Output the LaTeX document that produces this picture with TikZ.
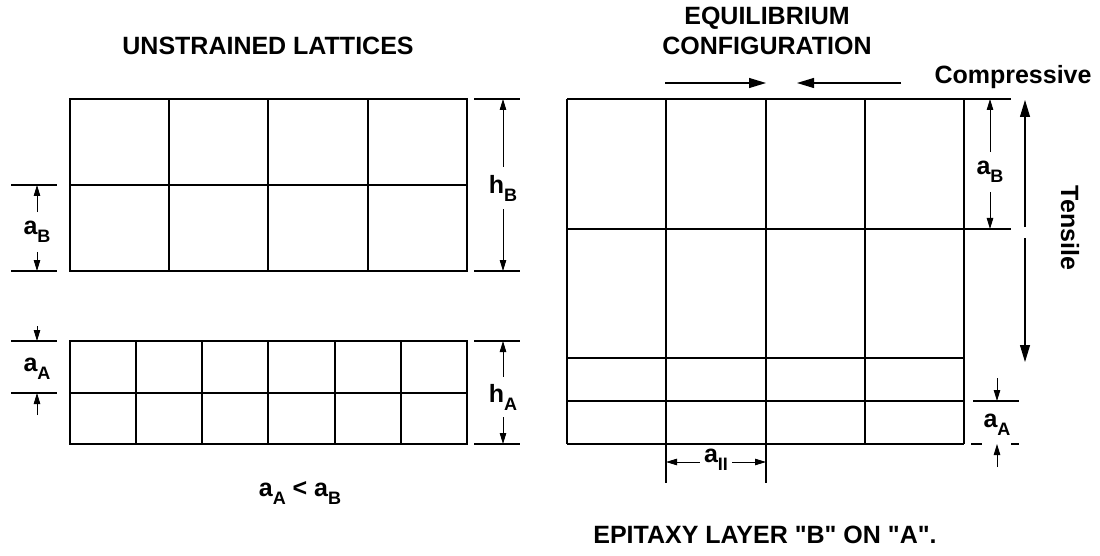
\documentclass[tikz,border=0pt]{standalone}
\usepackage{fontspec}
\setmainfont{Liberation Sans}[Ligatures=TeXOff]
\usetikzlibrary{arrows.meta}
\usetikzlibrary{positioning}

\newcommand{\lsub}[1]{\raisebox{-8pt}{\fontsize{18}{18}\selectfont #1}}

\begin{document}
\begin{tikzpicture}[x=1pt,y=-1pt,
  every node/.style={font=\fontsize{25}{30}\selectfont\bfseries,inner sep=0pt},
  grid/.style={line width=1.2pt},
  ext/.style={line width=1.2pt},
  dim/.style={line width=0.9pt,-{Triangle[length=11pt,width=6.5pt]}},
  force/.style={line width=1.1pt,-{Triangle[length=17pt,width=10pt]}},
  lbl/.style={inner xsep=0pt,inner ysep=9pt}]
\useasboundingbox (0,0) rectangle (1100,556);

% unstrained lattices
\node (title) at (268,46) {UNSTRAINED LATTICES};
\draw[grid] (70,99) rectangle (467,271);
\draw[grid] (70,185) -- (467,185);
\foreach \x in {169,268,368} \draw[grid] (\x,99) -- (\x,271);
\draw[grid] (70,341) rectangle (467,444);
\draw[grid] (70,393) -- (467,393);
\foreach \x in {136,202,268,335,401} \draw[grid] (\x,341) -- (\x,444);

\draw[ext] (11,185) -- (57,185);
\draw[ext] (11,271) -- (57,271);
\draw[ext] (474,99) -- (520,99);
\draw[ext] (474,271) -- (520,271);
\draw[ext] (11,341) -- (57,341);
\draw[ext] (11,393) -- (57,393);
\draw[ext] (474,341) -- (520,341);
\draw[ext] (474,444) -- (520,444);

\node[lbl] (aBl) at (37,232) {a\lsub{B}};
\coordinate (aBl1) at (37,185);
\coordinate (aBl2) at (37,271);
\draw[dim] (aBl) -- (aBl1);
\draw[dim] (aBl) -- (aBl2);

\node[lbl,inner ysep=8pt] (hB) at (503,188) {h\lsub{B}};
\coordinate (hB1) at (503,99);
\coordinate (hB2) at (503,271);
\draw[dim] (hB) -- (hB1);
\draw[dim] (hB) -- (hB2);

\node (aAl) at (37,369) {a\lsub{A}};
\coordinate (aAl1) at (37,341);
\coordinate (aAl2) at (37,393);
\coordinate (aAl0) at (37,326);
\coordinate (aAl3) at (37,415);
\draw[dim] (aAl0) -- (aAl1);
\draw[dim] (aAl3) -- (aAl2);

\node[lbl,inner ysep=7pt] (hA) at (503,397) {h\lsub{A}};
\coordinate (hA1) at (503,341);
\coordinate (hA2) at (503,444);
\draw[dim] (hA) -- (hA1);
\draw[dim] (hA) -- (hA2);

\node (rel) at (300,493) {a\lsub{A} < a\lsub{B}};

% epitaxy layer
\node[align=center] (eq) at (767,31) {EQUILIBRIUM\\CONFIGURATION};
\node[anchor=base] (comp) at (1013,84) {Compressive};
\coordinate (c1) at (665,83);
\coordinate (c2) at (766,83);
\coordinate (c3) at (901,83);
\coordinate (c4) at (797,83);
\draw[force] (c1) -- (c2);
\draw[force] (c3) -- (c4);

\draw[grid] (567,99) -- (1011,99);
\draw[grid] (567,229) -- (1011,229);
\draw[grid] (567,358) -- (964,358);
\draw[grid] (567,401) -- (964,401);
\draw[grid] (567,444) -- (964,444);
\draw[grid] (567,99) -- (567,444);
\draw[grid] (865,99) -- (865,444);
\draw[grid] (964,99) -- (964,444);
\draw[grid] (666,99) -- (666,483);
\draw[grid] (766,99) -- (766,483);

\node[lbl] (aBr) at (990,172) {a\lsub{B}};
\coordinate (aBr1) at (990,99);
\coordinate (aBr2) at (990,229);
\draw[dim] (aBr) -- (aBr1);
\draw[dim] (aBr) -- (aBr2);

\node[rotate=-90] (tens) at (1070,228) {Tensile};
\coordinate (t0) at (1025,227);
\coordinate (t1) at (1025,100);
\coordinate (t2) at (1025,238);
\coordinate (t3) at (1025,362);
\draw[force] (t0) -- (t1);
\draw[force] (t2) -- (t3);

\draw[ext] (973,401) -- (1019,401);
\draw[ext] (971,444) -- (982,444);
\draw[ext] (1011,444) -- (1019,444);
\node (aAr) at (997,425) {a\lsub{A}};
\coordinate (aAr0) at (997,378);
\coordinate (aAr1) at (997,401);
\coordinate (aAr2) at (997,444);
\coordinate (aAr3) at (997,467);
\draw[dim] (aAr0) -- (aAr1);
\draw[dim] (aAr3) -- (aAr2);

\node[inner xsep=4pt] (apar) at (716,460) {a\lsub{II}};
\coordinate (ap1) at (666,462);
\coordinate (ap2) at (766,462);
\draw[dim] (apar.west |- ap1) -- (ap1);
\draw[dim] (apar.east |- ap2) -- (ap2);

\node (epi) at (765,535) {EPITAXY LAYER "B" ON "A".};
\end{tikzpicture}
\end{document}
